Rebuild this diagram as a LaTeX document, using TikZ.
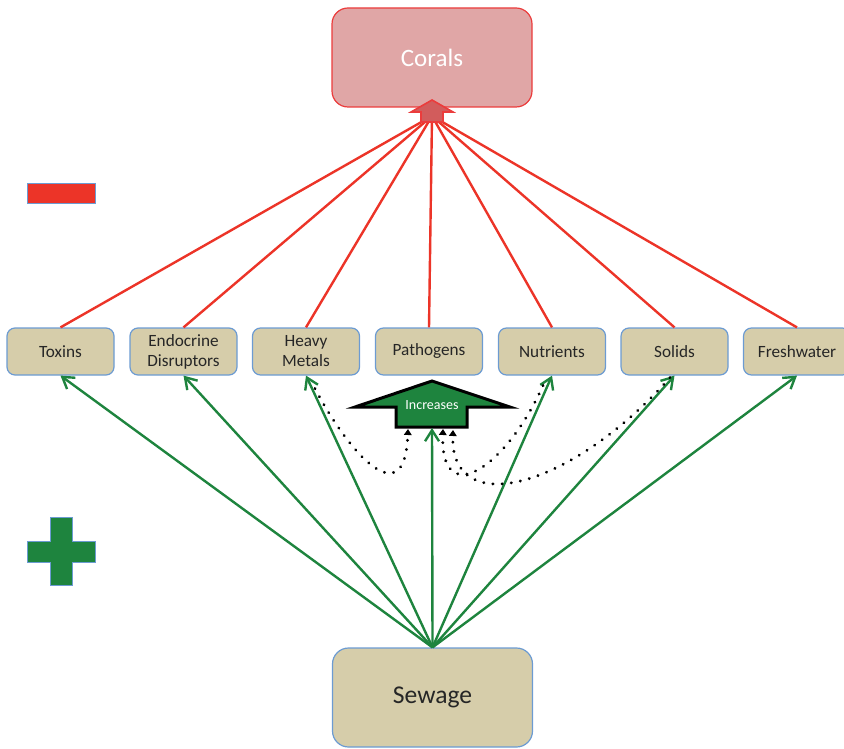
\documentclass[tikz,border=0pt]{standalone}
\usepackage{fontspec}
\setmainfont{Carlito}
\usetikzlibrary{arrows.meta}

\definecolor{boxfill}{RGB}{214,205,170}
\definecolor{boxline}{RGB}{108,155,210}
\definecolor{coralfill}{RGB}{224,166,166}
\definecolor{coralline}{RGB}{235,60,60}
\definecolor{coralarrow}{RGB}{210,92,92}
\definecolor{negred}{RGB}{236,52,40}
\definecolor{posgreen}{RGB}{30,132,62}

\begin{document}
\begin{tikzpicture}[x=0.5pt,y=-0.5pt,
  box/.style={draw=boxline, fill=boxfill, rounded corners=4pt, line width=0.6pt, minimum width=53.5pt, minimum height=23.5pt, align=center, inner sep=1pt, text=black!85, font=\fontsize{8.6}{10}\selectfont},
  bigbox/.style={box, rounded corners=8pt, minimum width=100pt, minimum height=49.5pt},
  negline/.style={draw=negred, line width=1.2pt},
  posline/.style={draw=posgreen, line width=1.2pt, -{Straight Barb[length=5.5pt,width=7pt,line width=1.2pt]}},
  feed/.style={line width=1.6pt, line cap=round, dash pattern=on 0.01pt off 4.6pt, -{Triangle[length=3pt,width=3.8pt]}}]

\useasboundingbox (0,0) rectangle (844,748);

% top and bottom
\node[bigbox, draw=coralline, fill=coralfill, text=white, font=\fontsize{12.5}{13}\selectfont] (corals) at (432,57.5) {Corals};
\node[bigbox, font=\fontsize{12.8}{14}\selectfont] (sewage) at (432.5,697.5) {Sewage};

% middle row
\node[box] (toxins) at (60.5,351.5) {Toxins};
\node[box] (endo) at (183.5,351.5) {Endocrine\\Disruptors};
\node[box] (metals) at (306,351.5) {Heavy\\Metals};
\node[box] (patho) at (429,351.5) {Pathogens};
\node[box] (nutri) at (552,351.5) {Nutrients};
\node[box] (solids) at (674.5,351.5) {Solids};
\node[box] (fresh) at (797,351.5) {Freshwater};

% negative links to corals
\coordinate (hit) at (432,116);
\foreach \n in {toxins,endo,metals,patho,nutri,solids,fresh}
  \draw[negline] (\n.north) -- (hit);
\draw[draw=coralline, fill=coralarrow, line width=0.8pt] (432,100) -- (453,112) -- (443,112) -- (443,122) -- (421,122) -- (421,112) -- (411,112) -- cycle;

% increases arrow
\draw[fill=posgreen, line width=1.5pt, line join=miter] (432,381) -- (510,407) -- (467,407) -- (467,427) -- (396,427) -- (396,407) -- (355,407) -- cycle;
\node[text=white, font=\fontsize{7}{8}\selectfont] (inc) at (432,405) {Increases};
\coordinate (incbase) at (432,428);
\coordinate (incA) at (408,429);
\coordinate (incB) at (443,429);
\coordinate (incC) at (453,430);

% positive links from sewage
\foreach \n in {toxins,endo,metals,nutri,solids,fresh}
  \draw[posline] (sewage.north) -- (\n.south);
\draw[posline] (sewage.north) -- (incbase);

% feedback into pathogens
\draw[feed] ([xshift=4.5pt,yshift=-6.5pt]metals.south) .. controls (350,455) and (405,515) .. (incA);
\draw[feed] ([xshift=-4.5pt,yshift=-5pt]nutri.south) .. controls (505,470) and (440,510) .. (incB);
\draw[feed] ([xshift=-2.25pt,yshift=-1pt]solids.south) .. controls (570,490) and (450,520) .. (incC);

% signs
\draw[draw=boxline, fill=negred, line width=0.5pt] (27,184) rectangle (95,204);
\draw[draw=boxline, fill=posgreen, line width=0.5pt] (50,517) -- (72,517) -- (72,541) -- (95,541) -- (95,562) -- (72,562) -- (72,585) -- (50,585) -- (50,562) -- (27,562) -- (27,541) -- (50,541) -- cycle;

\end{tikzpicture}
\end{document}
